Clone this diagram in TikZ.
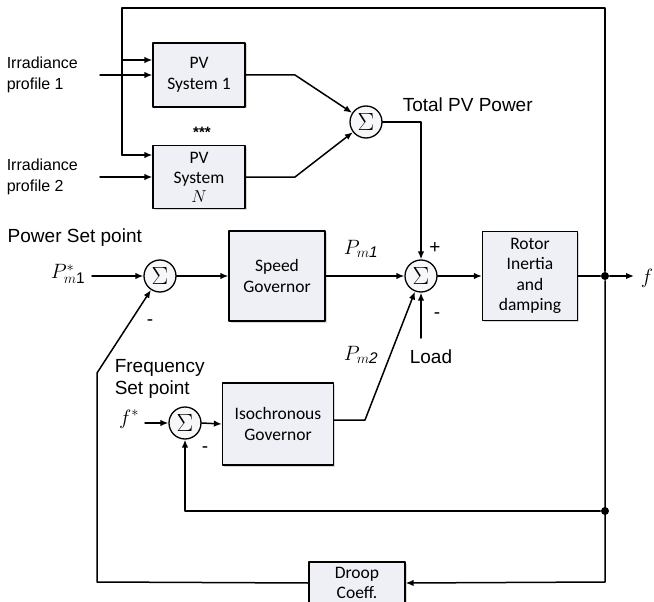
\documentclass[tikz,border=0pt]{standalone}
\usepackage{fontspec}
\setmainfont{Liberation Sans}
\newfontfamily\boxfont{Carlito}
\usetikzlibrary{arrows.meta,shadows}
\definecolor{boxfill}{HTML}{EEF0F6}
\definecolor{sumfill}{HTML}{F7F7FA}

\begin{document}
\begin{tikzpicture}[x=1pt, y=-1pt, line width=1.5pt, line cap=round, line join=round,
  blk/.style={draw, line width=1.3pt, fill=boxfill, align=center, inner sep=0pt,
    font=\boxfont\fontsize{17.5}{20.5}\selectfont,
    drop shadow={shadow xshift=1.5pt, shadow yshift=-1.5pt, opacity=0.3}},
  sumc/.style={draw, circle, line width=1.3pt, fill=sumfill, minimum size=32pt,
    inner sep=0pt, font=\fontsize{27}{27}\selectfont},
  arr/.style={-{Latex[length=8pt,width=6.5pt]}},
  lbl/.style={inner sep=0pt, font=\fontsize{19}{22}\selectfont},
  sym/.style={inner sep=0pt, font=\fontsize{22}{22}\selectfont},
  dot/.style={circle, fill, inner sep=0pt, minimum size=8pt}]

  %% ════ 方框 ════
  \node[blk, minimum width=92pt, minimum height=64pt] (pvone) at (199,75) {PV\\System 1};
  \node[blk, minimum width=92pt, minimum height=63pt] (pvn) at (199,177) {PV\\System\\[-2pt]$N$};
  \node[blk, minimum width=96pt, minimum height=90pt] (speed) at (277,276) {Speed\\Governor};
  \node[blk, minimum width=111pt, minimum height=82pt] (iso) at (278,424) {Isochronous\\Governor};
  \node[blk, minimum width=95pt, minimum height=89pt] (rotor) at (530,276) {Rotor\\Inertia\\and\\damping};
  \node[blk, minimum width=96pt, minimum height=42pt] (droop) at (357,583) {Droop\\Coeff.};

  %% ════ 求和点 ════
  \node[sumc] (sumpv) at (366,122) {$\Sigma$};
  \node[sumc] (sumpw) at (160,276) {$\Sigma$};
  \node[sumc] (summain) at (421,276) {$\Sigma$};
  \node[sumc] (sumf) at (185,423) {$\Sigma$};

  %% ════ 分支点 / 拐点 ════
  \node[dot] (jf) at (605,276) {};
  \node[dot] (jl) at (605,511) {};
  \coordinate (tr) at (605,8);
  \coordinate (tl) at (122,8);
  \coordinate (tapone) at (122,60);
  \coordinate (tapn) at (122,155);
  \coordinate (br) at (605,582);
  \coordinate (bl) at (97,582);
  \coordinate (bend) at (97,373);
  \coordinate (irrone) at (100,75);
  \coordinate (irrn) at (100,177);
  \coordinate (pvonek) at (295,75);
  \coordinate (pvnk) at (295,177);
  \coordinate (pvdown) at (421,122);
  \coordinate (psetin) at (92,276);
  \coordinate (loadin) at (421,338);
  \coordinate (fin) at (145,423);
  \coordinate (isok) at (365,420);
  \coordinate (fout) at (634,276);

  %% ════ 连线 ════
  \draw[arr] (irrone) -- (pvone.west |- irrone);
  \draw[arr] (irrn) -- (pvn.west |- irrn);
  \draw[arr] (tapone) -- (pvone.west |- tapone);
  \draw[arr] (tapn) -- (pvn.west |- tapn);
  \draw (jf) -- (tr) -- (tl) -- (tapn);
  \draw[arr] (pvone.east |- pvonek) -- (pvonek) -- (sumpv);
  \draw[arr] (pvn.east |- pvnk) -- (pvnk) -- (sumpv);
  \draw[arr] (sumpv.east) -- (pvdown) -- (summain.north);
  \draw[arr] (psetin) -- (sumpw.west);
  \draw[arr] (sumpw.east) -- (speed.west);
  \draw[arr] (speed.east) -- (summain.west);
  \draw[arr] (loadin) -- (summain.south);
  \draw[arr] (summain.east) -- (rotor.west);
  \draw[arr] (rotor.east) -- (jf) -- (fout);
  \draw[arr] (fin) -- (sumf.west);
  \draw[arr] (sumf.east) -- (iso.west);
  \draw[arr] (iso.east |- isok) -- (isok) -- (summain);
  \draw[arr] (jf) -- (br) -- (droop.east);
  \draw[arr] (droop.west) -- (bl) -- (bend) -- (sumpw);
  \draw[arr] (jl) -- (sumf |- jl) -- (sumf.south);

  %% ════ 标签 ════
  \node[lbl, anchor=west, align=left, font=\fontsize{16}{21}\selectfont] (irronetext) at (6,75) {Irradiance\\profile 1};
  \node[lbl, anchor=west, align=left, font=\fontsize{16}{21}\selectfont] (irrntext) at (6,177) {Irradiance\\profile 2};
  \node[lbl, font=\bfseries\fontsize{15}{15}\selectfont] (dots) at (202,132) {***};
  \node[lbl, anchor=west] (totalpv) at (402,105) {Total PV Power};
  \node[lbl, anchor=west] (psettext) at (7,238) {Power Set point};
  \node[sym] (psetsym) at (68,274) {$P_{m\mathrm{1}}^{*}$};
  \node[lbl, anchor=west, align=left] (fsettext) at (114,379) {Frequency\\Set point};
  \node[sym] (fsym) at (129,419) {$f^{*}$};
  \node[sym] (pmone) at (361,249) {$P_{m\mathit{1}}$};
  \node[sym] (pmtwo) at (361,355) {$P_{m\mathit{2}}$};
  \node[lbl] (plus) at (435,248) {+};
  \node[lbl] (minusmain) at (437,316) {-};
  \node[lbl] (minuspw) at (150,323) {-};
  \node[lbl] (minusf) at (205,450) {-};
  \node[lbl] (load) at (431,357) {Load};
  \node[sym] (fsig) at (647,278) {$f$};

  % 钉死画布
  \pgfresetboundingbox
  \path[use as bounding box] (0,0) rectangle (654,602);
\end{tikzpicture}
\end{document}
